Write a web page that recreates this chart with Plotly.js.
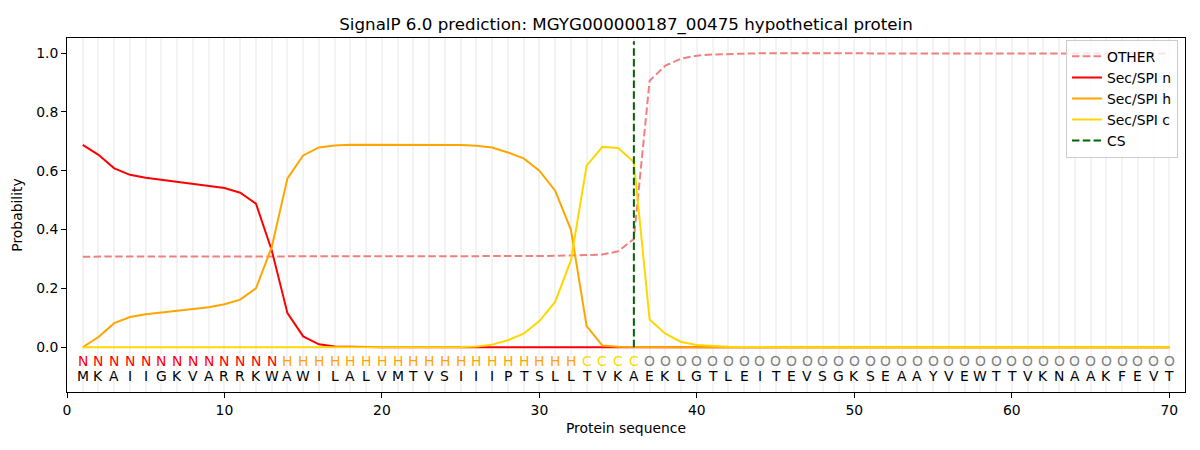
<!DOCTYPE html>
<html>
<head>
<meta charset="utf-8">
<script src="https://cdn.plot.ly/plotly-3.0.1.min.js"></script>
<style>
  html, body { margin: 0; padding: 0; background: #fff; }
  #chart { width: 1200px; height: 450px; }
</style>
</head>
<body>
<div id="chart"></div>
<script>
// ── Data ────────────────────────────────────────────────────────────
const SEQUENCE = "MKAIIGKVARRKWAWILALVMTVSIIIPTSLLTVKAEKLGTLEITEVSGKSEAAYVEWTTVKNAAKFEVT".split("");
const REGIONS  = "NNNNNNNNNNNNNHHHHHHHHHHHHHHHHHHHCCCCOOOOOOOOOOOOOOOOOOOOOOOOOOOOOOOOOO".split("");
const POSITIONS = SEQUENCE.map((_, i) => i + 1);

const OTHER = [
  0.308, 0.308, 0.308, 0.308, 0.308, 0.308, 0.308, 0.308, 0.308, 0.308,
  0.308, 0.308, 0.309, 0.309, 0.309, 0.309, 0.309, 0.309, 0.309, 0.309,
  0.309, 0.309, 0.309, 0.309, 0.309, 0.310, 0.310, 0.310, 0.310, 0.310,
  0.311, 0.312, 0.313, 0.315, 0.326, 0.368, 0.906, 0.957, 0.981, 0.991,
  0.995, 0.997, 0.998, 0.999, 0.999, 0.999, 0.999, 0.999, 0.999, 0.999,
  0.999, 0.999, 0.999, 0.999, 0.999, 0.999, 0.999, 0.999, 0.999, 0.999,
  0.998, 0.997, 0.997, 0.997, 0.997, 0.997, 0.998, 0.998, 0.998, 0.998,
];

const SEC_N = [
  0.688, 0.654, 0.608, 0.586, 0.576, 0.569, 0.564, 0.557, 0.550, 0.541,
  0.525, 0.488, 0.330, 0.116, 0.037, 0.010, 0.003, 0.001, 0.001, 0.000,
  0, 0, 0, 0, 0, 0, 0, 0, 0, 0,
  0, 0, 0, 0, 0, 0, 0, 0, 0, 0,
  0, 0, 0, 0, 0, 0, 0, 0, 0, 0,
  0, 0, 0, 0, 0, 0, 0, 0, 0, 0,
  0, 0, 0, 0, 0, 0, 0, 0, 0, 0,
];

const SEC_H = [
  0.000, 0.035, 0.082, 0.103, 0.112, 0.118, 0.124, 0.130, 0.136, 0.146,
  0.162, 0.200, 0.340, 0.574, 0.652, 0.679, 0.686, 0.688, 0.688, 0.688,
  0.688, 0.688, 0.688, 0.688, 0.687, 0.685, 0.679, 0.662, 0.642, 0.600,
  0.532, 0.400, 0.072, 0.006, 0.002, 0.001, 0, 0, 0, 0,
  0, 0, 0, 0, 0, 0, 0, 0, 0, 0,
  0, 0, 0, 0, 0, 0, 0, 0, 0, 0,
  0, 0, 0, 0, 0, 0, 0, 0, 0, 0,
];

const SEC_C = [
  0, 0, 0, 0, 0, 0, 0, 0, 0, 0,
  0, 0, 0, 0, 0, 0, 0, 0, 0, 0,
  0, 0, 0, 0, 0.001, 0.003, 0.009, 0.024, 0.046, 0.089,
  0.154, 0.295, 0.617, 0.681, 0.677, 0.630, 0.094, 0.046, 0.018, 0.008,
  0.004, 0.002, 0.001, 0, 0, 0, 0, 0, 0, 0,
  0, 0, 0, 0, 0, 0, 0, 0, 0, 0,
  0, 0, 0, 0, 0, 0, 0, 0, 0, 0,
];

const CS_POS = 36;
const CS_SPAN = [0, 1.04];

// ── Styling ─────────────────────────────────────────────────────────
const FONT = "DejaVu Sans, Liberation Sans, sans-serif";
const REGION_COLORS = { N: "#ff0000", H: "#ffa500", C: "#ffd700", O: "#808080" };
const LW = 2;

const traces = [
  { x: POSITIONS, y: OTHER, name: "OTHER", type: "scatter", mode: "lines",
    line: { color: "#f08080", width: LW, dash: "7.5px,3.3px" } },
  { x: POSITIONS, y: SEC_N, name: "Sec/SPI n", type: "scatter", mode: "lines",
    line: { color: "#ff0000", width: LW } },
  { x: POSITIONS, y: SEC_H, name: "Sec/SPI h", type: "scatter", mode: "lines",
    line: { color: "#ffa500", width: LW } },
  { x: POSITIONS, y: SEC_C, name: "Sec/SPI c", type: "scatter", mode: "lines",
    line: { color: "#ffd700", width: LW } },
  { x: [CS_POS, CS_POS], y: CS_SPAN, name: "CS", type: "scatter", mode: "lines",
    line: { color: "#006400", width: LW, dash: "7.5px,3.3px" } },
];

// Sequence letters and region labels under the curves
const annotations = [];
POSITIONS.forEach((p, i) => {
  annotations.push({
    x: p, y: -0.047, xref: "x", yref: "y", text: REGIONS[i], showarrow: false,
    font: { family: FONT, size: 13.9, color: REGION_COLORS[REGIONS[i]] },
    xanchor: "center", yanchor: "middle",
  });
  annotations.push({
    x: p, y: -0.097, xref: "x", yref: "y", text: SEQUENCE[i], showarrow: false,
    font: { family: FONT, size: 13.9, color: "#000" },
    xanchor: "center", yanchor: "middle",
  });
});

const gridStyle = { gridcolor: "#f3f3f3", gridwidth: 2 };

const layout = {
  width: 1200, height: 450,
  margin: { l: 66.5, r: 15, t: 37.5, b: 58, pad: 0 },
  paper_bgcolor: "#fff", plot_bgcolor: "#fff",
  font: { family: FONT, size: 13.9, color: "#000" },
  title: {
    text: "SignalP 6.0 prediction: MGYG000000187_00475 hypothetical protein",
    font: { family: FONT, size: 16.7, color: "#000" },
    x: 0.5, xref: "paper", xanchor: "center",
    y: 0.947, yref: "container", yanchor: "middle",
  },
  xaxis: {
    range: [0, 71], tick0: 0, dtick: 10, tickmode: "linear",
    showgrid: true, ...gridStyle,
    minor: { tick0: 0, dtick: 1, showgrid: true, ...gridStyle, ticks: "" },
    zeroline: false, showline: true, mirror: true, linecolor: "#000", linewidth: 1,
    ticks: "outside", ticklen: 5, tickcolor: "#000", tickwidth: 1,
    tickfont: { family: FONT, size: 13.9 },
    title: { text: "Protein sequence", font: { family: FONT, size: 13.9 }, standoff: 6 },
  },
  yaxis: {
    range: [-0.152, 1.051], tick0: 0, dtick: 0.2, tickmode: "linear", tickformat: ".1f",
    showgrid: false, zeroline: false,
    showline: true, mirror: true, linecolor: "#000", linewidth: 1,
    ticks: "outside", ticklen: 5, tickcolor: "#000", tickwidth: 1,
    tickfont: { family: FONT, size: 13.9 },
    title: { text: "Probability", font: { family: FONT, size: 13.9 }, standoff: 10 },
  },
  legend: {
    x: 0.9937, y: 0.995, xanchor: "right", yanchor: "top",
    bgcolor: "rgba(255,255,255,0.8)", bordercolor: "#cccccc", borderwidth: 1,
    font: { family: FONT, size: 13.9 },
    tracegroupgap: 0, itemwidth: 30,
  },
  annotations,
  showlegend: true,
};

Plotly.newPlot("chart", traces, layout, { displayModeBar: false, staticPlot: true });
</script>
</body>
</html>
